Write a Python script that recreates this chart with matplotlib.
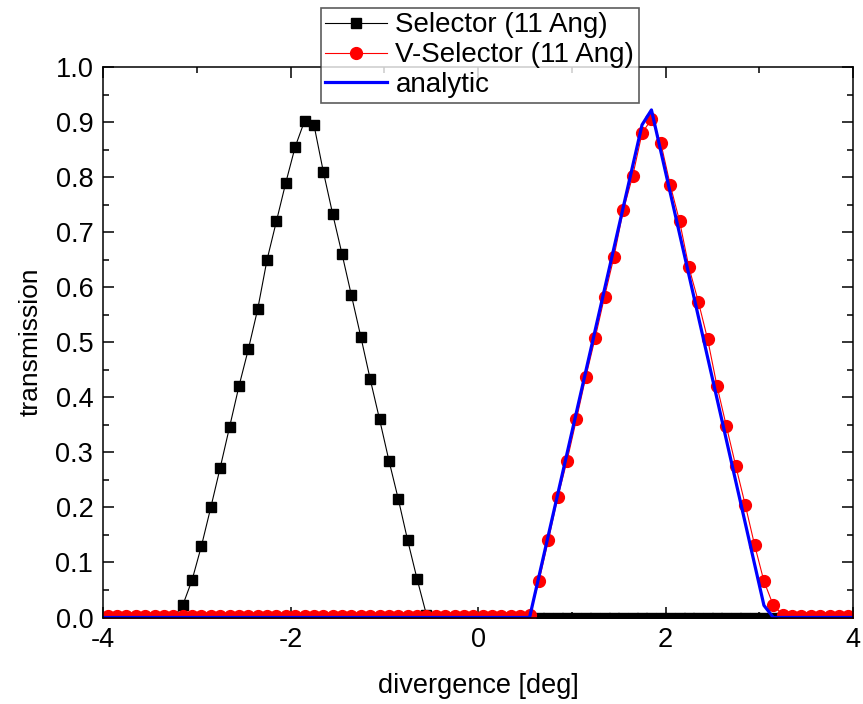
import matplotlib
matplotlib.use("Agg")
import matplotlib.pyplot as plt
from matplotlib.ticker import MultipleLocator, FormatStrFormatter

plt.rcParams['font.family'] = ['Liberation Sans', 'DejaVu Sans']
plt.rcParams['axes.unicode_minus'] = False

# divergence grid of both simulations (deg)
divergence = [round(-3.95 + 0.1 * i, 2) for i in range(80)]

# Selector (11 Ang): peak on the negative side
selector_peak = [0.022, 0.068, 0.13, 0.20, 0.272, 0.346, 0.42, 0.487, 0.56,
                 0.65, 0.72, 0.79, 0.855, 0.902, 0.895, 0.81, 0.733, 0.66,
                 0.585, 0.51, 0.433, 0.36, 0.285, 0.215, 0.14, 0.07, 0.005]
selector = [0.0] * 8 + selector_peak + [0.0] * 45

# V-Selector (11 Ang): peak on the positive side
vsel_peak = [0.004, 0.066, 0.14, 0.218, 0.285, 0.36, 0.437, 0.508, 0.583,
             0.655, 0.74, 0.802, 0.88, 0.905, 0.862, 0.786, 0.72, 0.636,
             0.574, 0.505, 0.42, 0.347, 0.275, 0.205, 0.132, 0.066, 0.022,
             0.005]
vselector = [0.003] * 45 + vsel_peak + [0.003] * 7

# analytic transmission (breakpoints)
analytic_x = [-4.0, 0.55, 1.75, 1.85, 3.05, 3.15, 4.0]
analytic_y = [0.0, 0.0, 0.895, 0.922, 0.022, 0.0, 0.0]

fig = plt.figure(figsize=(8.63, 7.04), dpi=100)
ax = fig.add_axes([103 / 863, 1 - 617.5 / 704, 750 / 863, 550.5 / 704])

ax.plot(divergence, selector, color='black', lw=0.8, marker='s', ms=7.5,
        mec='black', mfc='black', label='Selector (11 Ang)')
ax.plot(divergence, vselector, color='red', lw=0.8, marker='o', ms=8.5,
        mec='red', mfc='red', label='V-Selector (11 Ang)')
ax.plot(analytic_x, analytic_y, color='blue', lw=2.3, label='analytic')

ax.set_xlim(-4, 4)
ax.set_ylim(0, 1.0)
ax.xaxis.set_major_locator(MultipleLocator(2))
ax.xaxis.set_minor_locator(MultipleLocator(1))
ax.yaxis.set_major_locator(MultipleLocator(0.1))
ax.yaxis.set_minor_locator(MultipleLocator(0.05))
ax.yaxis.set_major_formatter(FormatStrFormatter('%.1f'))
ax.tick_params(which='both', direction='in', top=True, right=True,
               width=1.1, labelsize=19.5)
ax.tick_params(which='major', length=8, pad=7)
ax.tick_params(which='minor', length=4.5)
for sp in ax.spines.values():
    sp.set_linewidth(1.1)

ax.set_xlabel('divergence [deg]', fontsize=19.5, labelpad=14)
ax.set_ylabel('transmission', fontsize=19, labelpad=9)

# legend box sits over the top edge of the axes
leg = fig.legend(loc='upper left', bbox_to_anchor=(321 / 863, 1 - 8 / 704),
                 fontsize=20, frameon=True, fancybox=False, borderaxespad=0,
                 handlelength=2.2, handletextpad=0.32, borderpad=0.16,
                 labelspacing=0.14)
leg.get_frame().set_edgecolor('#333333')
leg.get_frame().set_linewidth(1.2)

fig.savefig('out.png', dpi=100)
